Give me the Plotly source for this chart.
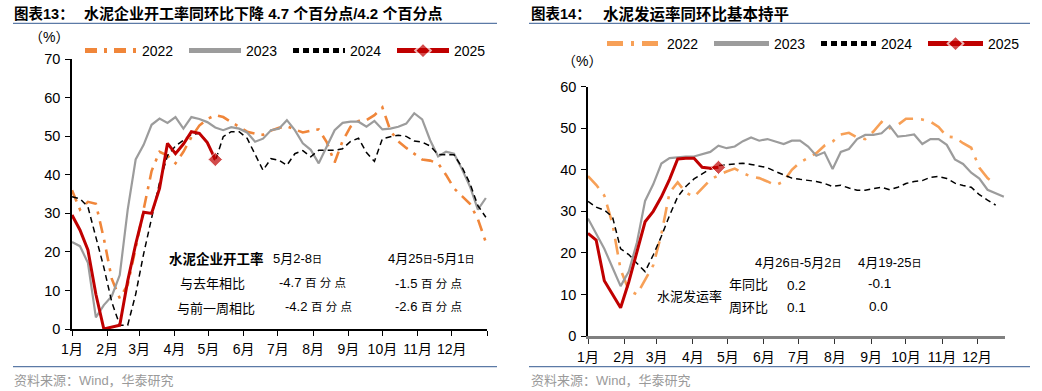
import pandas as pd
import plotly.graph_objects as go

W, H = 1042, 391

# ---------------- data: 图表13 水泥企业开工率 (%), weekly ----------------
ops_2022 = [36, 31, 33, 32.5, 23.5, 13, 8, 11.5, 21, 31, 41, 46, 45, 43, 46, 49.8, 52.8, 54.5,
            55.5, 55, 53.7, 52.3, 51.2, 50.7, 50.4, 51.5, 52.2, 52.6, 51.8, 51, 51.5, 51.8, 48.5,
            43.2, 48.8, 52.5, 54, 54.2, 55.5, 57.5, 51.5, 48.7, 47, 45.6, 44, 43.7, 43, 40, 36.5,
            34.5, 32.5, 28.5, 22.5]
ops_2023 = [22.6, 21.5, 17.2, 3, 6.2, 8.5, 14, 31, 44, 47.8, 53, 54.6, 53.5, 55, 52, 55, 54.5,
            53.7, 52.3, 51.6, 52.4, 52, 51, 48.6, 49.4, 51.6, 52, 54.2, 51.6, 48.2, 46.5, 43,
            47.3, 51.6, 53.5, 53.8, 53.8, 52.5, 54, 51.8, 52, 52.5, 53.3, 56, 54.4, 49, 44.8, 46,
            45.5, 41.5, 37, 31, 34]
ops_2024 = [34.3, 33.8, 31.7, 24, 16, 7, 1, 1, 9, 19.5, 28.5, 38, 45, 47.5, 49, 50.5, 50.8, 48.5,
            43.5, 49.9, 51.2, 51.2, 49.5, 45.5, 41.2, 44.2, 43.8, 42.5, 45.5, 46.3, 44.7, 46.4,
            46.4, 46.4, 46.8, 48.7, 49.5, 45.8, 43.5, 49.4, 49.9, 50.3, 50, 48.8, 48.5, 47.5,
            45.3, 45.2, 45.2, 42, 37.8, 32, 29]
ops_2025 = [29.6, 25.7, 20.5, 9, 0, 0.5, 1, 12.5, 22, 30.3, 30, 36.5, 48.2, 45.5, 48, 51.2,
            50.8, 48.4, 44.0]

# ---------------- data: 图表14 水泥发运率 (%), weekly ----------------
ship_2022 = [38.5, 36.4, 33.8, 27, 16, 11, 10, 13.5, 17, 24.5, 34.5, 37, 34.5, 33.5, 35.5, 37.6,
             38.7, 39.6, 40.3, 39.2, 38.4, 38, 37.2, 36.3, 37.2, 40, 41.8, 43, 44, 45.8, 46.8,
             48.5, 48.9, 47.8, 47.4, 49.2, 51.5, 50, 50.8, 52.3, 52.3, 52.1, 51.6, 50.3, 48,
             47.8, 46.4, 45.3, 40.5, 38, 36.5]
ship_2023 = [28.3, 24.8, 21, 16.5, 12, 15.5, 22.5, 32.5, 36.5, 41.5, 42.8, 43, 43.2, 43.2, 43.7,
             44.3, 45.8, 45.2, 45.6, 46.9, 47.8, 47, 47.4, 46.8, 46.2, 47, 47, 45.6, 43.4, 44.2,
             40.2, 44.3, 45, 47.4, 48.4, 48.4, 48.8, 50.6, 48, 48.2, 48.5, 46.2, 47.4, 47.4, 46,
             42.5, 41.4, 39.3, 37.9, 35.2, 34.4, 33.5]
ship_2024 = [32.4, 31, 30.3, 28.7, 21, 19.6, 17.5, 15.5, 19.5, 24, 29, 33.5, 36, 37.8, 39, 40.2,
             41, 41.2, 41.5, 41.6, 41.3, 40.9, 40.5, 39.6, 38.8, 38, 37.7, 37.5, 37.2, 36.7, 36,
             36.3, 35.6, 35.1, 35.1, 35.5, 35.8, 35.2, 35.8, 36.7, 37.2, 37.4, 38.2, 38.4, 37.9,
             36.8, 36.2, 35.8, 34, 32.7, 31.5]
ship_2025 = [24.7, 23.1, 13.3, 10, 6.8, 13, 20.3, 27.5, 30, 33.5, 37.7, 42.6, 42.8, 42.8, 40.6,
             40.4, 40.6]

series_names = ["2022", "2023", "2024", "2025"]
month_labels = ["1月", "2月", "3月", "4月", "5月", "6月", "7月", "8月", "9月", "10月", "11月", "12月"]

title_13_tag = "图表13："
title_13 = "水泥企业开工率同环比下降 4.7 个百分点/4.2 个百分点"
title_14_tag = "图表14："
title_14 = "水泥发运率同环比基本持平"
source_text = "资料来源：Wind，华泰研究"
unit_text = "（%）"

SM = "<span style='font-size:10px'>日</span>"
PCT = "<span style='font-size:11.5px'>百 分 点</span>"
table13_header = ["水泥企业开工率", "5月2-8" + SM, "4月25" + SM + "-5月1" + SM]
table13_rows = ["与去年相比", "与前一周相比"]
table13_cur = ["-4.7 " + PCT, "-4.2 " + PCT]
table13_prev = ["-1.5 " + PCT, "-2.6 " + PCT]
table14_header = ["4月26" + SM + "-5月2" + SM, "4月19-25" + SM]
table14_label = "水泥发运率"
table14_rows = ["年同比", "周环比"]
table14_cur = ["0.2", "0.1"]
table14_prev = ["-0.1", "0.0"]


def weekly(n, start="2025-01-01"):
    return pd.date_range(start, periods=n, freq="7D")


def fx(p):
    return p / W


def fy(p):
    return 1 - p / H


FONT = "Liberation Sans, Arial, Noto Sans CJK SC, sans-serif"
CJK = "Noto Sans CJK SC, sans-serif"

col = {"2022": "#F0863A", "2023": "#9C9C9C", "2024": "#000000", "2025": "#C00000"}
col22_r = "#F7A057"

fig = go.Figure()

left = {"2022": ops_2022, "2023": ops_2023, "2024": ops_2024, "2025": ops_2025}
right = {"2022": ship_2022, "2023": ship_2023, "2024": ship_2024, "2025": ship_2025}

styles_left = {
    "2022": dict(color=col["2022"], width=2.6, dash="12px,7px,3px,7px"),
    "2023": dict(color=col["2023"], width=2.2),
    "2024": dict(color=col["2024"], width=1.5, dash="6px,4px"),
    "2025": dict(color=col["2025"], width=3),
}
styles_right = {
    "2022": dict(color=col22_r, width=2.6, dash="16px,8px,3px,8px"),
    "2023": dict(color=col["2023"], width=2.2),
    "2024": dict(color=col["2024"], width=1.5, dash="6px,4px"),
    "2025": dict(color=col["2025"], width=3),
}


def add_series(data, styles, xa, ya, lg):
    for name in series_names:
        vals = data[name]
        if name == "2025":
            kw = dict(mode="lines+markers",
                      marker=dict(symbol="diamond", color=col["2025"],
                                  size=[0] * (len(vals) - 1) + [11]))
        else:
            kw = dict(mode="lines")
        fig.add_trace(go.Scatter(x=weekly(len(vals)), y=vals, name=name, line=styles[name],
                                 xaxis=xa, yaxis=ya, legend=lg, **kw))


add_series(left, styles_left, "x", "y", "legend")
add_series(right, styles_right, "x2", "y2", "legend2")

month_ticks_left = list(pd.date_range("2025-01-01", periods=13, freq="MS"))
month_ticks_right = list(pd.date_range("2025-01-01", periods=12, freq="MS"))

xcommon = dict(showgrid=False, zeroline=False, showline=True, ticks="outside",
               tickfont=dict(family=FONT, size=14, color="#000"), ticklabelstandoff=1)
ycommon = dict(showgrid=False, zeroline=False, showline=True, ticks="outside",
               tickfont=dict(family=FONT, size=14.5, color="#000"), ticklabelstandoff=2)

fig.update_layout(
    width=W, height=H, margin=dict(l=0, r=0, t=0, b=0, autoexpand=False),
    paper_bgcolor="white", plot_bgcolor="white",
    font=dict(family=FONT, color="#000"),
    xaxis=dict(domain=[fx(72), fx(487)], type="date", range=["2025-01-01", "2026-01-01"],
               tickvals=month_ticks_left, ticktext=month_labels + [""], anchor="y",
               linecolor="#000", linewidth=1.6, tickcolor="#000", ticklen=5, tickwidth=1.2,
               **xcommon),
    yaxis=dict(domain=[fy(329), fy(59.3)], range=[0, 70], dtick=10, anchor="x",
               linecolor="#000", linewidth=1.6, tickcolor="#000", ticklen=5, tickwidth=1.2,
               **ycommon),
    xaxis2=dict(domain=[fx(588), fx(1005)], type="date", range=["2025-01-01", "2025-12-25"],
                tickvals=month_ticks_right, ticktext=month_labels, anchor="y2",
                linecolor="#808080", linewidth=3, tickcolor="#333", ticklen=5, tickwidth=1.2,
                **xcommon),
    yaxis2=dict(domain=[fy(336), fy(86.7)], range=[0, 60], dtick=10, anchor="x2",
                linecolor="#000", linewidth=1.6, tickcolor="#000", ticklen=5, tickwidth=1.2,
                **ycommon),
    legend=dict(orientation="h", x=fx(80), y=fy(51), xanchor="left", yanchor="middle",
                itemwidth=52, entrywidth=37, entrywidthmode="pixels", itemsizing="constant",
                font=dict(family=FONT, size=14), bgcolor="rgba(0,0,0,0)"),
    legend2=dict(orientation="h", x=fx(602), y=fy(44), xanchor="left", yanchor="middle",
                 itemwidth=55, entrywidth=37, entrywidthmode="pixels", itemsizing="constant",
                 font=dict(family=FONT, size=14), bgcolor="rgba(0,0,0,0)"),
    showlegend=True,
)

ann = []


def add_text(text, x, y, size=13, bold=False, color="#000", xanchor="center", family=FONT):
    if bold:
        text = "<b>" + text + "</b>"
    ann.append(dict(text=text, x=fx(x), y=fy(y), xref="paper", yref="paper", showarrow=False,
                    xanchor=xanchor, yanchor="middle",
                    font=dict(family=family, size=size, color=color)))


# titles
add_text(title_13_tag, 12, 14, size=14.5, bold=True, xanchor="left")
add_text(title_13, 82, 14, size=15, bold=True, xanchor="left")
add_text(title_14_tag, 529, 14, size=14.5, bold=True, xanchor="left")
add_text(title_14, 601, 14, size=15.5, bold=True, xanchor="left")
# sources
add_text(source_text, 12, 380, size=13, color="#9a9a9a", xanchor="left")
add_text(source_text, 529, 380, size=13, color="#9a9a9a", xanchor="left")
# units
add_text(unit_text, 49, 37, size=14)
add_text(unit_text, 582, 61, size=14)

# table 13
add_text(table13_header[0], 216, 258, size=13.5, bold=True, family=CJK)
add_text(table13_header[1], 297, 258, size=13)
add_text(table13_header[2], 431, 258, size=13)
add_text(table13_rows[0], 212, 282, size=13, family=CJK)
add_text(table13_rows[1], 216, 307, size=13, family=CJK)
add_text(table13_cur[0], 312, 282, size=13)
add_text(table13_cur[1], 318, 306, size=13)
add_text(table13_prev[0], 428, 283, size=13)
add_text(table13_prev[1], 428, 306, size=13)

# table 14
add_text(table14_header[0], 798, 262, size=13)
add_text(table14_header[1], 889, 262, size=13)
add_text(table14_label, 689, 295, size=13, family=CJK)
add_text(table14_rows[0], 748, 283, size=13, family=CJK)
add_text(table14_rows[1], 748, 306, size=13, family=CJK)
add_text(table14_cur[0], 796, 285, size=13.5)
add_text(table14_cur[1], 796, 307, size=13.5)
add_text(table14_prev[0], 879, 283, size=13.5)
add_text(table14_prev[1], 878, 306, size=13.5)

fig.update_layout(annotations=ann)

rule = dict(color="#5B7AA6", width=1.2)
shapes = []
for x0, x1 in [(13, 497), (529, 1030)]:
    for yy in [23.3, 366.7]:
        shapes.append(dict(type="line", xref="paper", yref="paper", x0=fx(x0), x1=fx(x1),
                           y0=fy(yy), y1=fy(yy), line=rule))
fig.update_layout(shapes=shapes)

# remove the default page margin so the figure sits at the window's top-left corner
fig.write_html("out.html", config={"displayModeBar": False},
               post_script="document.body.style.margin='0';document.body.style.overflow='hidden';")
